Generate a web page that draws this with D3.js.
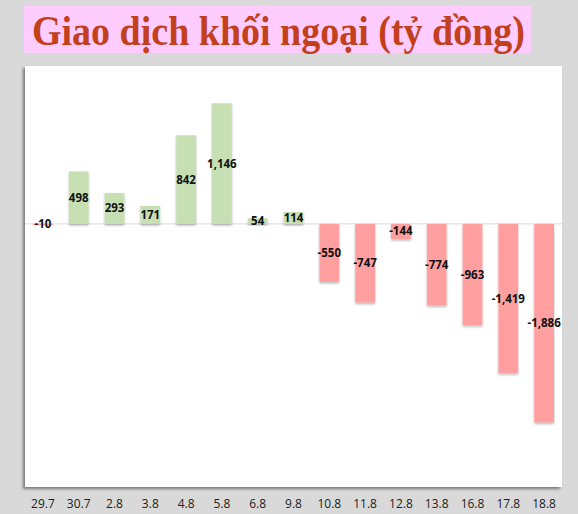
<!DOCTYPE html>
<html lang="vi">
<head>
  <meta charset="UTF-8">
  <title>Giao dịch khối ngoại</title>
  <script src="https://d3js.org/d3.v7.min.js"></script>
  <style>
    html, body {
      margin: 0;
      padding: 0;
      background: #d9d9d9;
    }
    svg { display: block; }
  </style>
</head>
<body>
  <div id="chart"></div>
  <script>
    // data
    var title = "Giao dịch khối ngoại (tỷ đồng)";
    var dates = ["29.7", "30.7", "2.8", "3.8", "4.8", "5.8", "6.8", "9.8", "10.8", "11.8", "12.8", "13.8", "16.8", "17.8", "18.8"];
    var values = [-10, 498, 293, 171, 842, 1146, 54, 114, -550, -747, -144, -774, -963, -1419, -1886];

    var width = 578, height = 514;
    var plot = {left: 25, right: 562, top: 66, bottom: 487};

    var svg = d3.select("#chart").append("svg")
      .attr("width", width)
      .attr("height", height);

    var defs = svg.append("defs");
    var shadow = defs.append("filter").attr("id", "panelShadow")
      .attr("x", "-5%").attr("y", "-5%").attr("width", "110%").attr("height", "110%");
    shadow.append("feDropShadow")
      .attr("dx", -2).attr("dy", 2).attr("stdDeviation", 1.5)
      .attr("flood-color", "#000").attr("flood-opacity", 0.45);

    var barShadow = defs.append("filter").attr("id", "barShadow")
      .attr("x", "-20%").attr("y", "-20%").attr("width", "140%").attr("height", "140%");
    barShadow.append("feDropShadow")
      .attr("dx", 0).attr("dy", 1.5).attr("stdDeviation", 0.8)
      .attr("flood-color", "#000").attr("flood-opacity", 0.3);

    // title box
    svg.append("rect")
      .attr("x", 24).attr("y", 6)
      .attr("width", 507).attr("height", 47)
      .attr("fill", "#ffccff");

    var t = svg.append("text")
      .attr("x", 32).attr("y", 45)
      .attr("font-family", "'Liberation Serif', 'Times New Roman', serif")
      .attr("font-weight", "bold")
      .attr("font-size", 42)
      .attr("fill", "#c3401d")
      .text(title);
    var tw = t.node().getComputedTextLength();
    if (Math.abs(tw - 493) > 4) t.attr("textLength", 493).attr("lengthAdjust", "spacingAndGlyphs");

    // white panel
    svg.append("rect")
      .attr("x", plot.left).attr("y", plot.top)
      .attr("width", plot.right - plot.left)
      .attr("height", plot.bottom - plot.top)
      .attr("fill", "#fff")
      .attr("filter", "url(#panelShadow)");

    var x = d3.scaleBand()
      .domain(dates)
      .range([plot.left, plot.right])
      .paddingInner(0.45)
      .paddingOuter(0.225);

    var y = d3.scaleLinear()
      .domain([-2500, 1500])
      .range([plot.bottom, plot.top]);

    // zero line
    svg.append("line")
      .attr("x1", plot.left).attr("x2", plot.right)
      .attr("y1", y(0)).attr("y2", y(0))
      .attr("stroke", "#d9d9d9")
      .attr("stroke-width", 1);

    var rows = dates.map(function(d, i) { return {date: d, value: values[i]}; });

    svg.append("g").selectAll("rect")
      .data(rows)
      .join("rect")
      .attr("x", d => x(d.date))
      .attr("width", x.bandwidth())
      .attr("y", d => y(Math.max(0, d.value)))
      .attr("height", d => Math.abs(y(d.value) - y(0)))
      .attr("fill", d => d.value >= 0 ? "#c6e0b4" : "#ff9f9f")
      .attr("filter", "url(#barShadow)");

    var fmt = d3.formatLocale({decimal: ".", thousands: ",", grouping: [3], currency: ["", ""], minus: "-"}).format(",");

    svg.append("g").selectAll("text")
      .data(rows)
      .join("text")
      .attr("x", d => x(d.date) + x.bandwidth() / 2)
      .attr("y", d => (y(d.value) + y(0)) / 2)
      .attr("dy", "0.35em")
      .attr("text-anchor", "middle")
      .attr("font-family", "'Open Sans', sans-serif")
      .attr("font-weight", "bold")
      .attr("font-size", 11.5)
      .attr("fill", "#111")
      .text(d => fmt(d.value));

    // category axis below the panel
    var xAxis = svg.append("g")
      .attr("transform", "translate(0," + 499 + ")")
      .call(d3.axisBottom(x).tickSize(0).tickPadding(0));
    xAxis.select(".domain").remove();
    xAxis.selectAll("text")
      .attr("font-family", "'Open Sans', sans-serif")
      .attr("font-size", 12)
      .attr("fill", "#222");
  </script>
</body>
</html>
